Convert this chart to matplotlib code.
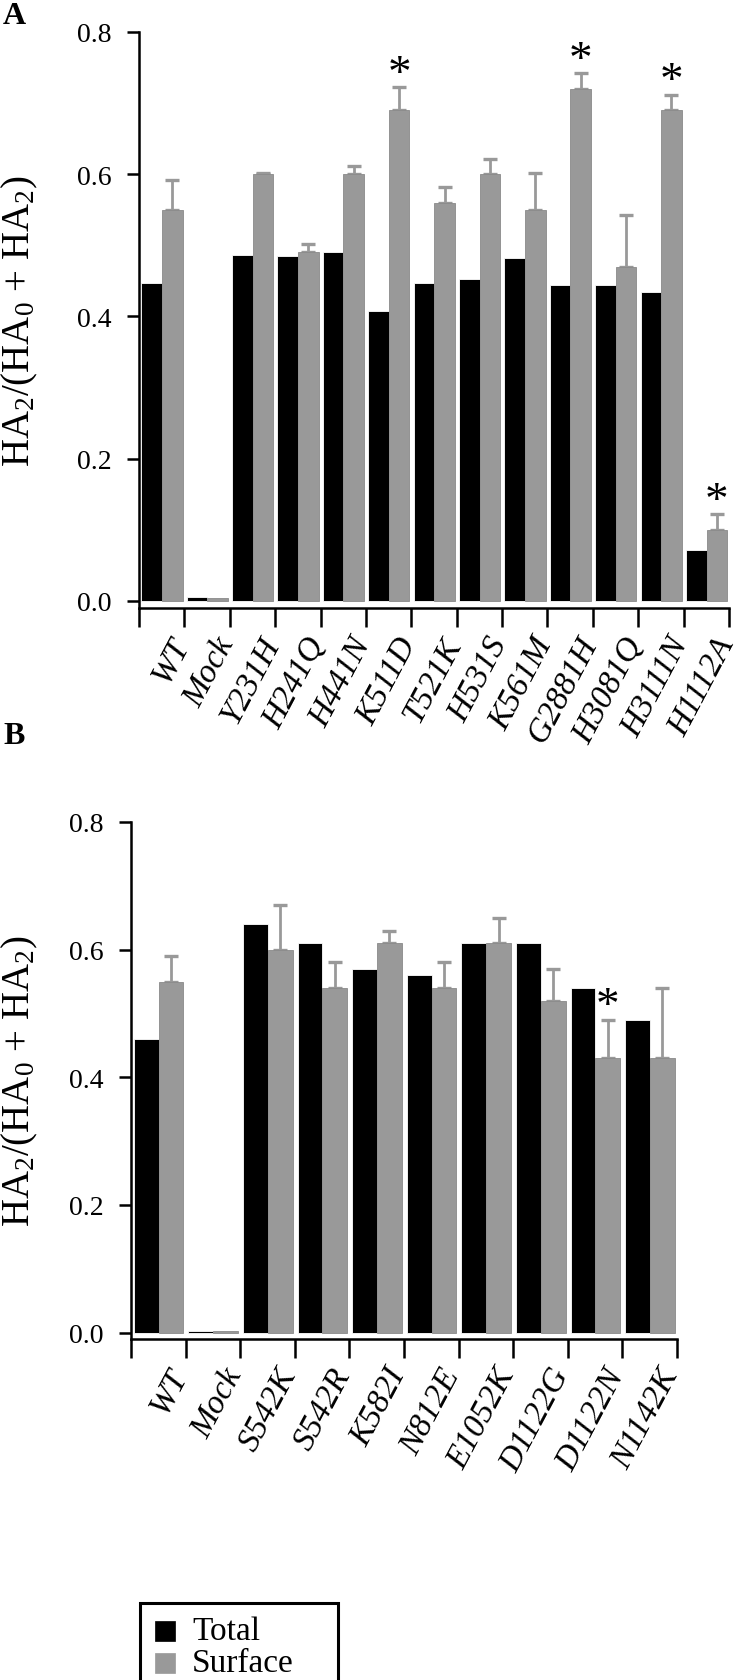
import matplotlib
matplotlib.use("Agg")
import matplotlib.pyplot as plt
import numpy as np
from matplotlib.patches import Rectangle

plt.rcParams['font.family'] = ['Liberation Serif', 'DejaVu Serif']
plt.rcParams['mathtext.fontset'] = 'custom'
plt.rcParams['mathtext.rm'] = 'Liberation Serif'
plt.rcParams['mathtext.it'] = 'Liberation Serif:italic'

# ---- Panel A data ----
cats_a = ["WT", "Mock", "Y231H", "H241Q", "H441N", "K511D", "T521K", "H531S",
          "K561M", "G2881H", "H3081Q", "H3111N", "H1112A"]
total_a = [0.447, 0.005, 0.487, 0.485, 0.491, 0.408, 0.447, 0.453, 0.482, 0.444, 0.444, 0.435, 0.072]
surface_a = [0.550, 0.004, 0.600, 0.490, 0.600, 0.690, 0.560, 0.600, 0.550, 0.720, 0.470, 0.690, 0.100]
err_a = [0.042, 0.0, 0.002, 0.012, 0.012, 0.032, 0.022, 0.022, 0.052, 0.022, 0.072, 0.022, 0.022]
star_a = [False, False, False, False, False, True, False, False, False, True, False, True, True]

# ---- Panel B data ----
cats_b = ["WT", "Mock", "S542K", "S542R", "K582I", "N812E", "E1052K", "D1122G", "D1122N", "N1142K"]
total_b = [0.46, 0.003, 0.64, 0.61, 0.57, 0.56, 0.61, 0.61, 0.54, 0.49]
surface_b = [0.55, 0.002, 0.60, 0.54, 0.61, 0.54, 0.61, 0.52, 0.43, 0.43]
err_b = [0.04, 0.0, 0.07, 0.04, 0.02, 0.04, 0.04, 0.05, 0.06, 0.11]
star_b = [False, False, False, False, False, False, False, False, True, False]

yticks = [0.0, 0.2, 0.4, 0.6, 0.8]
ylabel = "HA$_2$/(HA$_0$ + HA$_2$)"
legend_labels = ["Total", "Surface"]

BLACK = "#000000"
GRAY = "#999999"
W, H = 750, 1681
fig = plt.figure(figsize=(W / 100, H / 100), dpi=100)


def px_axes(left, right, top, bottom):
    return fig.add_axes([left / W, 1 - bottom / H, (right - left) / W, (bottom - top) / H])


def draw(ax, cats, total, surface, err, stars, label_x):
    n = len(cats)
    x = np.arange(n)
    bw = 0.455
    ax.bar(x + 0.05, total, width=bw, align='edge', color=BLACK,
           edgecolor='white', linewidth=0.6, zorder=2)
    ax.bar(x + 0.05 + bw, surface, width=bw, align='edge', color=GRAY,
           edgecolor='#8a8a8a', linewidth=0.6, zorder=2)
    xc = x + 0.05 + 1.5 * bw
    for i in range(n):
        if err[i] > 0:
            ax.errorbar(xc[i], surface[i], yerr=[[0], [err[i]]], fmt='none',
                        ecolor=GRAY, elinewidth=2.0, capsize=5, capthick=2.4, zorder=1)
        if stars[i]:
            ax.text(xc[i], surface[i] + err[i] - 0.012, "*", ha='center', va='bottom',
                    fontsize=34, color='black', clip_on=False)
    ax.set_xlim(0, n)
    ax.set_ylim(-0.01, 0.8)
    ax.set_yticks(yticks)
    ax.set_yticklabels([f"{v:.1f}" for v in yticks], fontsize=20)
    ax.set_xticks(np.arange(n + 1))
    ax.set_xticklabels([])
    ax.set_xticks(x + 0.65, minor=True)
    ax.set_xticklabels(cats, minor=True, rotation=62, ha='right',
                       rotation_mode='anchor', fontsize=24, style='italic')
    ax.tick_params(axis='x', which='major', length=14, width=1.8, direction='out')
    ax.tick_params(axis='x', which='minor', length=0, pad=17)
    ax.tick_params(axis='y', length=9, width=1.8, pad=11)
    for s in ['top', 'right']:
        ax.spines[s].set_visible(False)
    for s in ['left', 'bottom']:
        ax.spines[s].set_linewidth(1.8)
    ax.spines['left'].set_bounds(-0.01, 0.8)
    ax.set_ylabel(ylabel, fontsize=28)
    ax.yaxis.set_label_coords(label_x, 0.5)


axA = px_axes(139, 729, 33, 609)
draw(axA, cats_a, total_a, surface_a, err_a, star_a, (40 - 139) / 590)
axB = px_axes(131, 677, 823, 1340)
draw(axB, cats_b, total_b, surface_b, err_b, star_b, (40 - 131) / 546)

fig.text(3 / W, 1 - 16 / H, "A", fontsize=23, fontweight='bold', va='center', ha='left')
fig.text(3 / W, 1 - 737 / H, "B", fontsize=23, fontweight='bold', va='center', ha='left')


# ---- legend drawn by hand (box runs off the bottom edge as in the reference) ----
def fx(px):
    return px / W


def fy(py):
    return 1 - py / H


fig.patches.append(Rectangle((fx(140), fy(1700)), fx(338) - fx(140), fy(1604) - fy(1700),
                             transform=fig.transFigure, facecolor='white',
                             edgecolor='black', linewidth=2.2, clip_on=False))
for lab, col, cy in zip(legend_labels, [BLACK, GRAY], [1632, 1664]):
    fig.patches.append(Rectangle((fx(155), fy(cy + 10)), fx(175) - fx(155), fy(cy - 10) - fy(cy + 10),
                                 transform=fig.transFigure, facecolor=col,
                                 edgecolor=col, linewidth=0.5))
    fig.text(fx(192), fy(cy), lab, fontsize=24, va='center', ha='left')

fig.savefig("out.png", dpi=100)
